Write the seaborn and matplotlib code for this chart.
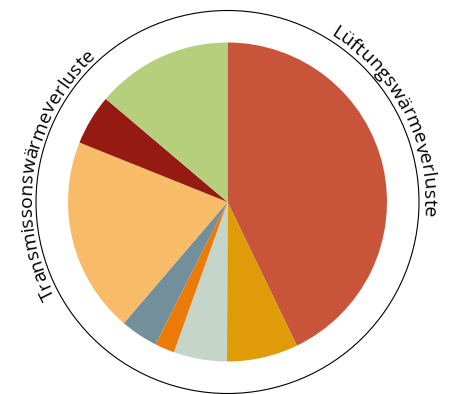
import numpy as np
import matplotlib
matplotlib.use("Agg")
import matplotlib.pyplot as plt
import seaborn as sns
from matplotlib.font_manager import FontProperties
from matplotlib.patches import Circle

# Shares of the heat losses (percent), clockwise from the top
shares = [42.8, 7.2, 5.4, 2.0, 3.8, 19.8, 5.1, 13.8]
colors = ["#C8553A", "#E09C08", "#C5D5CA", "#EB7A06",
          "#748F9C", "#F8BB68", "#951A12", "#B5CF7D"]

# Curved labels round the outer ring
arc_labels = ["Lüftungswärmeverluste", "Transmissonswärmeverluste"]
arc_starts = [31.5, 241.5]   # degrees clockwise from the top

sns.set_theme(style="white")
plt.rcParams['font.family'] = ['Open Sans', 'DejaVu Sans']

fig = plt.figure(figsize=(4.51, 3.94), dpi=100)
ax = fig.add_axes([0, 0, 1, 1])

cx, cy = 227.5, 192.0

ax.pie(shares, colors=colors, startangle=90, counterclock=False,
       center=(cx, cy), radius=159.5, frame=True,
       wedgeprops=dict(linewidth=0))
ax.set_xlim(0, 451)
ax.set_ylim(0, 394)
ax.set_aspect('equal')
ax.axis('off')

# outer ring
ax.add_patch(Circle((cx, cy), 191.5, fill=False, edgecolor='black', linewidth=0.8))

# curved text: each char placed along the arc, tops facing outward
prop = FontProperties(family=['Open Sans', 'DejaVu Sans'], size=14)
renderer = fig.canvas.get_renderer()


def text_width(s):
    if not s:
        return 0.0
    w, h, d = renderer.get_text_width_height_descent(s, prop, ismath=False)
    return w


r_base = 196.0
for label, start in zip(arc_labels, arc_starts):
    for i, ch in enumerate(label):
        mid = (text_width(label[:i]) + text_width(label[:i + 1])) / 2
        theta = start + np.degrees(mid / r_base)
        t = np.radians(theta)
        x = cx + r_base * np.sin(t)
        y = cy + r_base * np.cos(t)
        ax.text(x, y, ch, fontproperties=prop, rotation=-theta,
                rotation_mode='anchor', ha='center', va='baseline',
                color='black')

fig.savefig('out.png', dpi=100)
